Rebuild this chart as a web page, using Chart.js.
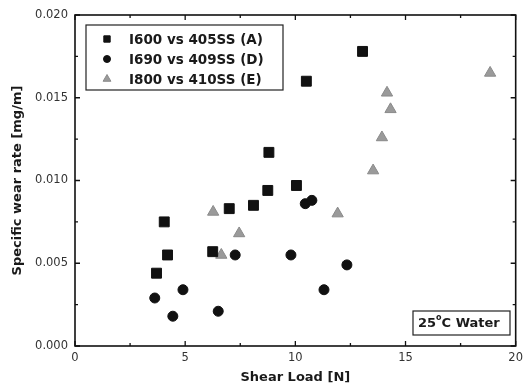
<!DOCTYPE html>
<html><head><meta charset="utf-8">
<script src="https://cdn.jsdelivr.net/npm/chart.js@4.4.0/dist/chart.umd.min.js"></script>
<style>html,body{margin:0;padding:0;background:#fff}#wrap{width:528px;height:391px}</style>
</head><body><div id="wrap"><canvas id="c" width="528" height="391"></canvas></div>
<script>
const seriesNames = ["I600 vs 405SS (A)", "I690 vs 409SS (D)", "I800 vs 410SS (E)"];
const loadA = [3.7, 4.05, 4.2, 6.25, 7.0, 8.1, 8.75, 8.8, 10.05, 10.5, 13.05];
const wearA = [0.0044, 0.0075, 0.0055, 0.0057, 0.0083, 0.0085, 0.0094, 0.0117, 0.0097, 0.0160, 0.0178];
const loadD = [3.62, 4.44, 4.9, 6.5, 7.27, 9.8, 10.45, 10.75, 11.3, 12.34];
const wearD = [0.0029, 0.0018, 0.0034, 0.0021, 0.0055, 0.0055, 0.0086, 0.0088, 0.0034, 0.0049];
const loadE = [6.27, 6.64, 7.45, 11.92, 13.53, 13.93, 14.16, 14.32, 18.84];
const wearE = [0.0081, 0.0055, 0.0068, 0.0080, 0.0106, 0.0126, 0.0153, 0.0143, 0.0165];
const xTicks = [0, 5, 10, 15, 20];
const yTicks = [0.000, 0.005, 0.010, 0.015, 0.020];
const noteText = ["25", "o", "C Water"];
const xTitle = "Shear Load [N]";
const yTitle = "Specific wear rate [mg/m]";

const pts = (xs, ys) => xs.map((x, i) => ({x, y: ys[i]}));

const styles = [
  {pointStyle: 'rect', pointRadius: 7, backgroundColor: '#111', borderColor: '#111', legendR: 4.5},
  {pointStyle: 'circle', pointRadius: 5, backgroundColor: '#111', borderColor: '#111', legendR: 3.5},
  {pointStyle: 'triangle', pointRadius: 6.5, backgroundColor: '#9a9a9a', borderColor: '#8a8a8a', legendR: 4.5}
];

const frameTicks = {
  id: 'frameTicks',
  afterDraw(chart) {
    const {ctx, chartArea: a, scales: {x, y}} = chart;
    ctx.save();
    ctx.strokeStyle = '#111';
    ctx.lineWidth = 1.3;
    for (let v = 0; v <= 20; v += 2.5) {
      const px = x.getPixelForValue(v);
      const len = (v % 5 === 0) ? 5 : 3;
      ctx.beginPath();
      ctx.moveTo(px, a.bottom); ctx.lineTo(px, a.bottom - len);
      ctx.moveTo(px, a.top); ctx.lineTo(px, a.top + len);
      ctx.stroke();
    }
    for (let k = 0; k <= 8; k++) {
      const v = k * 0.0025;
      const py = y.getPixelForValue(v);
      const len = (k % 2 === 0) ? 5 : 3;
      ctx.beginPath();
      ctx.moveTo(a.left, py); ctx.lineTo(a.left + len, py);
      ctx.moveTo(a.right, py); ctx.lineTo(a.right - len, py);
      ctx.stroke();
    }
    ctx.lineWidth = 1.6;
    ctx.strokeRect(a.left, a.top, a.right - a.left, a.bottom - a.top);

    // legend
    const lx = a.left + 11, ly = a.top + 10, lw = 197, lh = 65;
    ctx.lineWidth = 1.2;
    ctx.strokeStyle = '#222';
    ctx.strokeRect(lx, ly, lw, lh);
    ctx.font = 'bold 13.5px "DejaVu Sans"';
    ctx.textBaseline = 'middle';
    ctx.fillStyle = '#1a1a1a';
    chart.data.datasets.forEach((ds, i) => {
      const ry = ly + 14 + i * 20;
      const st = styles[i];
      ctx.save();
      ctx.fillStyle = st.backgroundColor;
      ctx.strokeStyle = st.borderColor;
      ctx.lineWidth = 1;
      Chart.helpers.drawPoint(ctx, {pointStyle: st.pointStyle, radius: st.legendR, rotation: 0, borderWidth: 1}, lx + 21, ry);
      ctx.restore();
      ctx.fillText(ds.label, lx + 43, ry + 1);
    });

    // annotation
    const bx = 413, by = 311, bw = 97, bh = 24;
    ctx.strokeRect(bx, by, bw, bh);
    ctx.fillStyle = '#1a1a1a';
    ctx.font = 'bold 13px "DejaVu Sans"';
    let tx = bx + 5;
    const ty = by + 13;
    ctx.fillText(noteText[0], tx, ty);
    tx += ctx.measureText(noteText[0]).width;
    ctx.font = 'bold 8px "DejaVu Sans"';
    ctx.fillText(noteText[1], tx, ty - 6);
    tx += ctx.measureText(noteText[1]).width;
    ctx.font = 'bold 13px "DejaVu Sans"';
    ctx.fillText(noteText[2], tx, ty);
    ctx.restore();
  }
};

new Chart(document.getElementById('c'), {
  type: 'scatter',
  data: {
    datasets: [
      {label: seriesNames[0], data: pts(loadA, wearA), ...styles[0], pointBorderWidth: 1},
      {label: seriesNames[1], data: pts(loadD, wearD), ...styles[1], pointBorderWidth: 1},
      {label: seriesNames[2], data: pts(loadE, wearE), ...styles[2], pointBorderWidth: 1}
    ]
  },
  options: {
    responsive: false,
    animation: false,
    layout: {padding: {left: 0, right: 9, top: 15, bottom: 0}},
    plugins: {legend: {display: false}, tooltip: {enabled: false}},
    scales: {
      x: {
        type: 'linear', min: 0, max: 20,
        afterBuildTicks: s => { s.ticks = xTicks.map(v => ({value: v})); },
        afterFit: s => { s.height = 45; },
        grid: {display: false, drawTicks: false},
        border: {display: false},
        ticks: {padding: 5, color: '#333', font: {family: 'DejaVu Sans', size: 11.5}, maxRotation: 0},
        title: {display: true, text: xTitle, color: '#1a1a1a', font: {family: 'DejaVu Sans', size: 13, weight: 'bold'}, padding: {top: 0, bottom: 6}}
      },
      y: {
        type: 'linear', min: 0, max: 0.02,
        afterBuildTicks: s => { s.ticks = yTicks.map(v => ({value: v})); },
        afterFit: s => { s.width = 75; },
        grid: {display: false, drawTicks: false},
        border: {display: false},
        ticks: {padding: 7, color: '#333', font: {family: 'DejaVu Sans', size: 11.5}, callback: v => v.toFixed(3)},
        title: {display: true, text: yTitle, color: '#1a1a1a', font: {family: 'DejaVu Sans', size: 13, weight: 'bold'}, padding: {top: 10, bottom: 0}}
      }
    }
  },
  plugins: [frameTicks]
});
</script></body></html>
